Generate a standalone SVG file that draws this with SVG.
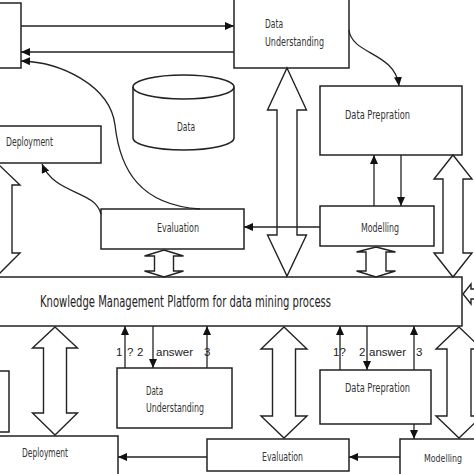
<svg xmlns="http://www.w3.org/2000/svg" width="474" height="474" viewBox="0 0 474 474">
<defs>
<style>
.box{fill:#fff;stroke:#222;stroke-width:1.5}
.blk{fill:none;stroke:#222;stroke-width:1.4;stroke-linejoin:miter}
.ln{fill:none;stroke:#222;stroke-width:1.3}
.arr{marker-end:url(#ah)}
.lb{font-family:"DejaVu Sans Condensed","Liberation Sans",sans-serif;font-size:12px;fill:#333}
.pl{font-family:"DejaVu Sans Condensed","Liberation Sans",sans-serif;font-size:15px;fill:#222}
.nm{font-family:"Liberation Sans",Arial,sans-serif;font-size:11.5px;fill:#222}
</style>
<marker id="ah" markerWidth="10" markerHeight="8" refX="9" refY="4" orient="auto" markerUnits="userSpaceOnUse">
<path d="M0,0 L9,4 L0,8 Z" fill="#111"/>
</marker>
</defs>
<rect width="474" height="474" fill="#fff"/>

<g id="node-topleft"><rect class="box" x="-10" y="3" width="31" height="65"/></g>
<g id="node-du-top"><rect class="box" x="234" y="-2" width="115" height="70"/>
<text class="lb" x="265" y="28" textLength="18" lengthAdjust="spacingAndGlyphs">Data</text>
<text class="lb" x="265" y="46" textLength="59" lengthAdjust="spacingAndGlyphs">Understanding</text></g>
<g id="node-dp-top"><rect class="box" x="320" y="86" width="142" height="69"/>
<text class="lb" x="345" y="119" textLength="65" lengthAdjust="spacingAndGlyphs">Data Prepration</text></g>
<g id="node-data"><path class="box" d="M133,87 L133,138 A50.5,12 0 0 0 234,138 L234,87"/>
<ellipse class="box" cx="183.5" cy="87" rx="50.5" ry="12"/>
<text class="lb" x="177" y="131" textLength="18" lengthAdjust="spacingAndGlyphs">Data</text></g>
<g id="node-dep-top"><rect class="box" x="-10" y="126" width="111" height="37"/>
<text class="lb" x="6" y="146" textLength="47" lengthAdjust="spacingAndGlyphs">Deployment</text></g>
<g id="node-eval-top"><rect class="box" x="101" y="209" width="143" height="40"/>
<text class="lb" x="157" y="232" textLength="42" lengthAdjust="spacingAndGlyphs">Evaluation</text></g>
<g id="node-mod-top"><rect class="box" x="320" y="206" width="114" height="40"/>
<text class="lb" x="361" y="232" textLength="38" lengthAdjust="spacingAndGlyphs">Modelling</text></g>
<g id="node-platform"><rect class="box" x="-10" y="277" width="472" height="49"/>
<text class="pl" x="40" y="307" textLength="291" lengthAdjust="spacingAndGlyphs">Knowledge Management Platform for data mining process</text></g>
<g id="node-left-bottom"><rect class="box" x="-10" y="371" width="19" height="61"/></g>
<g id="node-du-bottom"><rect class="box" x="117" y="368" width="115" height="60"/>
<text class="lb" x="146" y="395" textLength="17" lengthAdjust="spacingAndGlyphs">Data</text>
<text class="lb" x="146" y="412" textLength="58" lengthAdjust="spacingAndGlyphs">Understanding</text></g>
<g id="node-dp-bottom"><rect class="box" x="320" y="370" width="111" height="54"/>
<text class="lb" x="345" y="392" textLength="65" lengthAdjust="spacingAndGlyphs">Data Prepration</text></g>
<g id="node-dep-bottom"><rect class="box" x="-10" y="436" width="128" height="50"/>
<text class="lb" x="22" y="457" textLength="46" lengthAdjust="spacingAndGlyphs">Deployment</text></g>
<g id="node-eval-bottom"><rect class="box" x="207" y="439" width="142" height="32"/>
<text class="lb" x="262" y="461" textLength="41" lengthAdjust="spacingAndGlyphs">Evaluation</text></g>
<g id="node-mod-bottom"><rect class="box" x="400" y="439" width="80" height="40"/>
<text class="lb" x="424" y="462" style="font-size:11px" textLength="38" lengthAdjust="spacingAndGlyphs">Modelling</text></g>

<g id="connectors">
<polygon class="blk" points="287,68 306.5,110 297,110 297,235 306.5,235 287,276 267.5,235 277,235 277,110 267.5,110"/>
<polygon class="blk" points="453,155 472,179 463,179 463,253 472,253 453,277 434,253 443,253 443,179 434,179"/>
<polygon class="blk" points="-3,163 20,185 12,185 12,253 20,253 -3,276 -26,253 -18,253 -18,185 -26,185"/>
<polygon class="blk" points="164,250 183.5,256 173.5,256 173.5,271 183.5,271 164,277 144.5,271 154.5,271 154.5,256 144.5,256"/>
<polygon class="blk" points="376,247 395.5,252 386,252 386,271 395.5,271 376,277 356.5,271 366,271 366,252 356.5,252"/>
<polygon class="blk" points="463,294 471,284 471,289 480,289 480,299 471,299 471,304"/>
<polygon class="blk" points="55,327 77.5,348 66.5,348 66.5,413 77.5,413 55,435 32.5,413 43.5,413 43.5,348 32.5,348"/>
<polygon class="blk" points="284,327 307,349 295.5,349 295.5,416 307,416 284,438 261,416 272.5,416 272.5,349 261,349"/>
<polygon class="blk" points="459,327 482,349 471,349 471,416 482,416 459,438 436,416 447,416 447,349 436,349"/>

<path class="ln arr" d="M21,26 L234,26"/>
<path class="ln arr" d="M234,52 L21,52"/>
<path class="ln arr" d="M200,209 C140,205 120,170 115,125 C110,85 60,62 21,61"/>
<path class="ln arr" d="M349,30 C352,55 395,52 399,86"/>
<path class="ln arr" d="M101,214 C95,190 55,195 42,164"/>
<path class="ln arr" d="M320,227 L244,227"/>
<path class="ln arr" d="M374,206 L374,155"/>
<path class="ln arr" d="M401,155 L401,206"/>
<path class="ln arr" d="M125,368 L125,326"/>
<path class="ln arr" d="M153,326 L153,368"/>
<path class="ln arr" d="M207,368 L207,326"/>
<path class="ln arr" d="M340,370 L340,326"/>
<path class="ln arr" d="M367,326 L367,370"/>
<path class="ln arr" d="M414,370 L414,326"/>
<path class="ln arr" d="M414,424 L414,439"/>
<path class="ln arr" d="M207,457 L118,457"/>
<path class="ln arr" d="M400,457 L349,457"/>

<text class="nm" x="116" y="356">1</text>
<text class="nm" x="127" y="356">?</text>
<text class="nm" x="137" y="356">2</text>
<text class="nm" x="156" y="356">answer</text>
<text class="nm" x="204" y="356">3</text>
<text class="nm" x="333" y="356">1?</text>
<text class="nm" x="359" y="356">2</text>
<text class="nm" x="369" y="356">answer</text>
<text class="nm" x="416" y="356">3</text>
</g>
</svg>
